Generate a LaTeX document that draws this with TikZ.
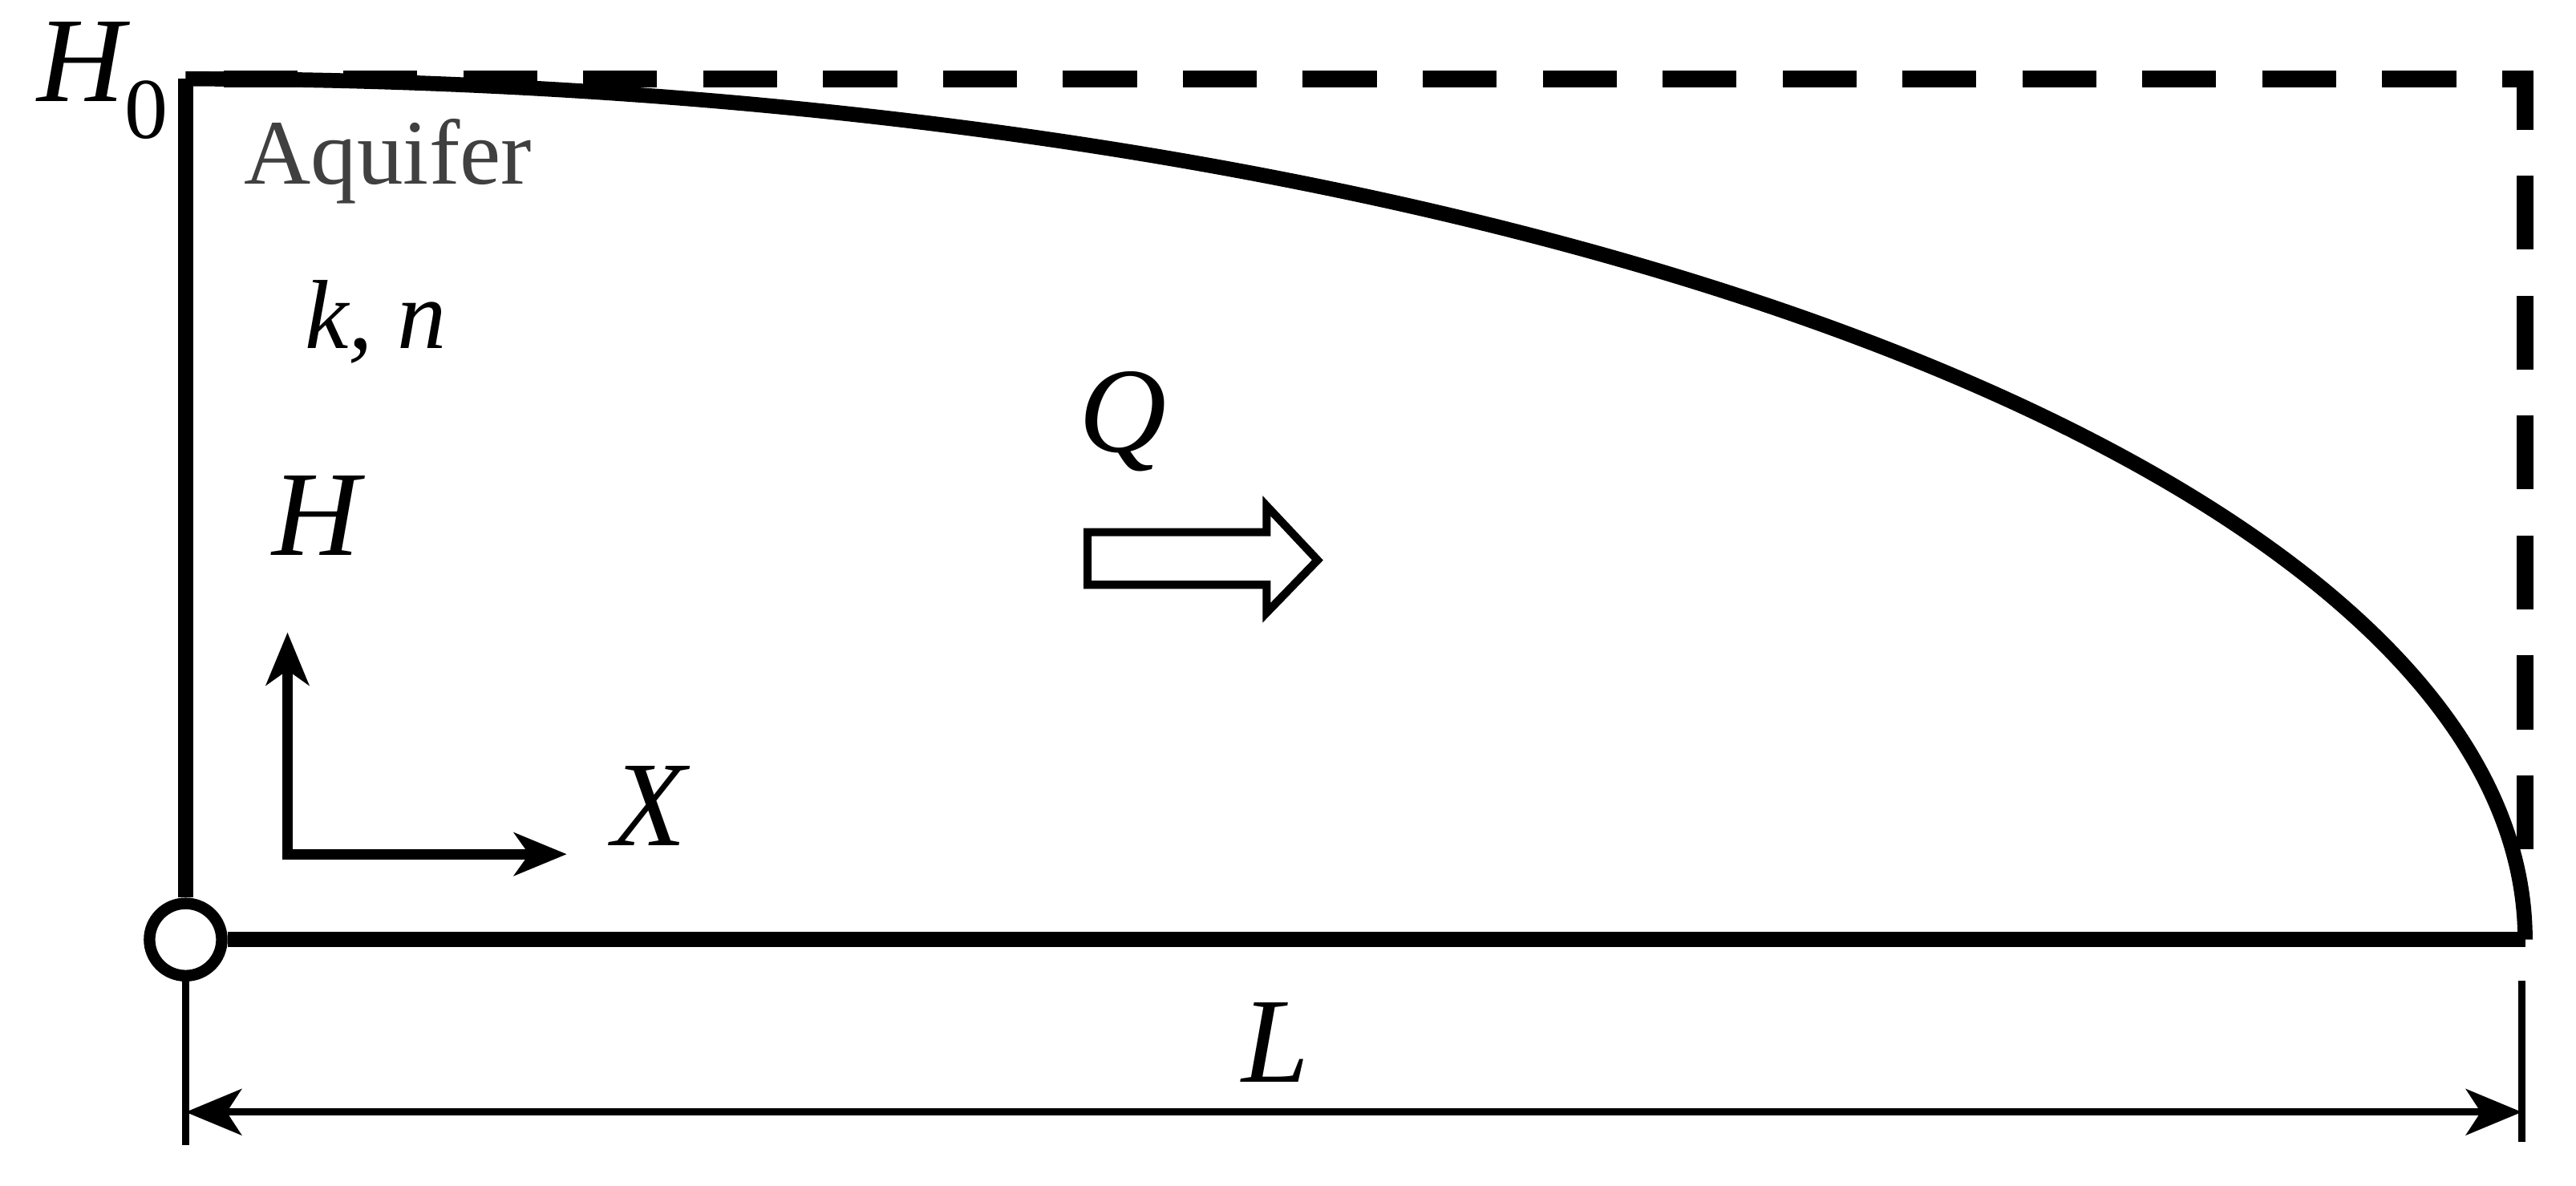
\documentclass[tikz,border=0pt]{standalone}
\usepackage{fontspec}
\setmainfont{Liberation Serif}
\usetikzlibrary{arrows.meta}

\begin{document}
\begin{tikzpicture}
[line join=miter,%
  every node/.style={inner sep=0pt,anchor=base west,font=\fontsize{21}{25}\selectfont\itshape},%
  wall/.style={line width=2.6pt},%
  watertable/.style={line width=3pt,dash pattern=on 0.45cm off 0.28cm},%
  dimline/.style={line width=1.2pt},%
  dimtip/.tip={Stealth[length=0.34cm,width=0.28cm,inset=0.09cm]},%
  axistip/.tip={Stealth[length=0.32cm,width=0.26cm,inset=0.09cm]}]
\useasboundingbox (-1.13,-1.50) rectangle (14.55,5.72);
\coordinate (top) at (0,5.24);
\coordinate (toe) at (14.24,0);
\coordinate (corner) at (14.24,5.24);
\coordinate (seep) at (14.24,0.55);
\coordinate (footL) at (0,-1.25);
\coordinate (tickT) at (14.22,-0.25);
\coordinate (tickB) at (14.22,-1.23);
\coordinate (dimL) at (0,-1.05);
\coordinate (dimR) at (14.22,-1.05);
\coordinate (orig) at (0.62,0.52);
\coordinate (hend) at (0.62,1.87);
\coordinate (xend) at (2.32,0.52);
\draw[watertable] (seep) -- (corner) -- (top);
\draw[wall] (top) arc[start angle=90,end angle=0,x radius=14.24,y radius=5.24];
\node[circle,draw,line width=2pt,fill=white,minimum size=0.44cm,anchor=center] (well) at (0,0) {};
\draw[wall] (well.north) -- (top);
\draw[wall] (well.east) -- (toe);
\draw[dimline] (well.south) -- (footL);
\draw[dimline] (tickT) -- (tickB);
\draw[dimline,dimtip-dimtip] (dimL) -- (dimR);
\draw[line width=1.8pt,axistip-axistip] (hend) -- (orig) -- (xend);
\draw[line width=1.4pt] (5.49,2.16) -- (6.58,2.16) -- (6.58,1.99) -- (6.89,2.31)
  -- (6.58,2.64) -- (6.58,2.48) -- (5.49,2.48) -- cycle;
\node (head) at (-0.91,5.10) {H\raisebox{-0.3em}{\upshape\fontsize{15}{18}\selectfont 0}};
\node[font=\fontsize{16}{19}\selectfont,text=black!75] (aquifer) at (0.35,4.60) {Aquifer};
\node[font=\fontsize{17}{20}\selectfont\itshape] (param) at (0.72,3.60) {k, n};
\node (flow) at (5.43,2.97) {Q};
\node (hlab) at (0.52,2.34) {H};
\node (xlab) at (2.59,0.57) {X};
\node (len) at (6.42,-0.87) {L};
\end{tikzpicture}
\end{document}
